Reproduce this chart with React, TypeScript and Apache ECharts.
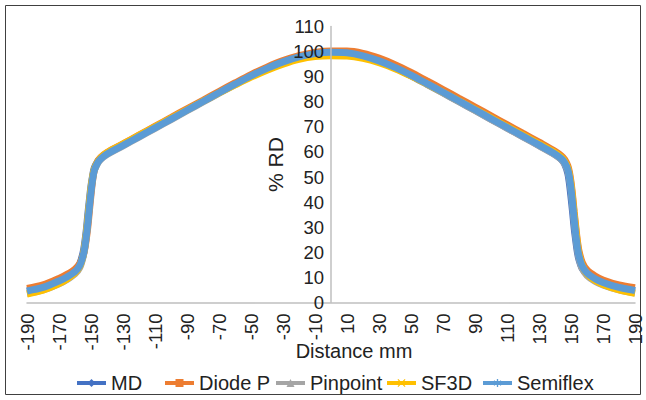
import React, { useEffect, useRef } from "react";
import * as echarts from "echarts";

// Distance (mm) sample positions shared by all detectors
const distances = [
  -190, -180, -170, -165, -160, -157, -155, -154, -153, -152, -151, -150, -149, -148, -146, -144, -140,
  -130, -120, -110, -100, -90, -80, -70, -60, -50, -40, -30, -20, -10,
  0,
  10, 20, 30, 40, 50, 60, 70, 80, 90, 100, 110, 120, 130, 140,
  144, 146, 148, 149, 150, 151, 152, 153, 154, 155, 157, 160, 165, 170, 180, 190,
];

const md = [
  4.5, 5.9, 8.5, 10.1, 12.5, 15.5, 19.8, 23.5, 28.5, 35, 41, 46.5, 50.5, 53.5, 56, 57.5, 59.4,
  62.8, 66.3, 69.8, 73.3, 76.8, 80.3, 83.7, 87.1, 90.4, 93.4, 96, 98, 99.3,
  99.7,
  99.4, 98.1, 96.1, 93.5, 90.4, 87, 83.6, 80.1, 76.6, 73.1, 69.6, 66.1, 62.6, 59,
  57, 55.2, 51.5, 47.5, 42, 36, 29.5, 24.5, 20, 17, 13.5, 11.3, 9.3, 7.9, 5.9, 4.7,
];

const diodeP = [
  5.6, 7, 9.6, 11.2, 13.3, 15.5, 18.5, 21, 25, 30, 36.5, 43, 48.5, 52.5, 56, 57.8, 59.8,
  63.2, 66.7, 70.2, 73.7, 77.2, 80.6, 84.1, 87.5, 90.8, 93.8, 96.4, 98.4, 99.7,
  100.2,
  100.2, 99.3, 97.4, 94.8, 91.7, 88.3, 84.9, 81.4, 77.9, 74.4, 70.9, 67.4, 63.9, 60.3,
  58.4, 57, 54.5, 52, 48, 42.5, 36, 30, 24.5, 20.5, 16, 13, 10.6, 9, 7, 5.9,
];

const pinpoint = [
  3.6, 5, 7.5, 9.2, 11.5, 14, 18, 21.5, 26.5, 32.5, 39, 45, 49.5, 52.5, 55.3, 57, 59,
  62.4, 65.9, 69.4, 72.9, 76.4, 79.9, 83.4, 86.8, 90.1, 93.1, 95.6, 97.6, 98.8,
  99.2,
  99, 97.9, 96, 93.4, 90.3, 86.9, 83.5, 80, 76.5, 73, 69.5, 66, 62.5, 58.9,
  57, 55.4, 52.5, 49.5, 45, 39, 32.5, 26.5, 21.5, 17.8, 13.6, 10.8, 8.5, 7, 5, 3.8,
];

const sf3d = [
  3.4, 4.9, 7.5, 9.3, 11.8, 14.5, 18.5, 22, 27, 33, 39.5, 45.5, 50, 53, 55.8, 57.6, 59.7,
  63.1, 66.6, 70, 73.4, 76.8, 80.2, 83.5, 86.7, 89.8, 92.6, 95, 96.9, 98,
  98.3,
  98.2, 97.3, 95.6, 93.2, 90.3, 87.1, 83.8, 80.4, 77, 73.6, 70.1, 66.7, 63.2, 59.7,
  57.8, 56.3, 53.7, 51, 47, 41.5, 35, 29, 23.5, 19.3, 14.8, 11.5, 8.8, 7.2, 5, 3.7,
];

const semiflex = [
  4.6, 6.0, 8.6, 10.2, 12.3, 14.8, 18.5, 21.5, 26, 31.5, 38, 44, 49, 52.5, 55.5, 57.2, 59.2,
  62.6, 66.1, 69.6, 73.1, 76.6, 80.1, 83.6, 87, 90.3, 93.3, 95.9, 97.9, 99.2,
  99.7,
  99.5, 98.3, 96.3, 93.7, 90.6, 87.2, 83.8, 80.3, 76.8, 73.3, 69.8, 66.3, 62.8, 59.2,
  57.3, 55.8, 53, 50, 45.5, 39.5, 33, 27, 22, 18.5, 14.5, 11.8, 9.5, 8.0, 6.0, 4.8,
];

const seriesNames = ["MD", "Diode P", "Pinpoint", "SF3D", "Semiflex"];
const seriesValues = [md, diodeP, pinpoint, sf3d, semiflex];
const colors = ["#4472C4", "#ED7D31", "#A5A5A5", "#FFC000", "#5B9BD5"];
const symbols = [
  "diamond",
  "rect",
  "triangle",
  "path://M1,0L5,4L9,0L10,1L6,5L10,9L9,10L5,6L1,10L0,9L4,5L0,1Z",
  "path://M4.3,0H5.7V3.3L8.5,1.5L9.2,2.7L6.4,4.5L9.2,6.3L8.5,7.5L5.7,5.7V9H4.3V5.7L1.5,7.5L0.8,6.3L3.6,4.5L0.8,2.7L1.5,1.5L4.3,3.3Z",
];

const xTitle = "Distance mm";
const yTitle = "% RD";
const FONT = "'Liberation Sans', Arial, sans-serif";

// left edge of each legend entry (layout, px)
const LEGEND_LEFTS = [70, 158, 269, 380, 476];

export default function App() {
  const ref = useRef<HTMLDivElement>(null);

  useEffect(() => {
    document.body.style.margin = "0";
    const chart = echarts.init(ref.current as HTMLDivElement, undefined, { renderer: "svg" });

    const gridLeft = 27;
    const gridRight = 11;
    const plotWidth = 646 - gridLeft - gridRight;
    // y axis sits where distance = 0 (middle of the -190..190 range)
    const yAxisOffset = -plotWidth / 2;

    const series = seriesNames.map((name, i) => ({
      name,
      type: "line",
      data: distances.map((d, j) => [d, seriesValues[i][j]]),
      symbol: symbols[i],
      showSymbol: false,
      smooth: 0.3,
      lineStyle: { color: colors[i], width: 7 },
      itemStyle: { color: colors[i] },
      emphasis: { disabled: true },
    }));

    const legends = seriesNames.map((name, i) => ({
      left: LEGEND_LEFTS[i],
      top: 368,
      itemWidth: 29,
      itemHeight: 10,
      lineStyle: { width: 4 },
      textStyle: { fontSize: 20, color: "#222", fontFamily: FONT },
      data: [name],
    }));

    chart.setOption({
      animation: false,
      textStyle: { fontFamily: FONT },
      graphic: [
        {
          type: "rect",
          shape: { x: 5.5, y: 5.5, width: 635, height: 389 },
          style: { fill: "none", stroke: "#404040", lineWidth: 1 },
          silent: true,
        },
      ],
      grid: {
        left: gridLeft,
        right: gridRight,
        top: 26.5,
        bottom: 97.5,
        containLabel: false,
        outerBoundsMode: "none",
      },
      legend: legends,
      xAxis: {
        type: "value",
        min: -190,
        max: 190,
        interval: 20,
        name: xTitle,
        nameLocation: "middle",
        nameGap: 38,
        nameMoveOverlap: false,
        nameTextStyle: { fontSize: 20, color: "#222", fontFamily: FONT, padding: [0, 0, 0, 46] },
        axisLine: { show: true, onZero: false, lineStyle: { color: "#BFBFBF", width: 1.5 } },
        axisTick: { show: false },
        splitLine: { show: false },
        axisLabel: { rotate: 90, fontSize: 18.5, color: "#222", margin: 11, fontFamily: FONT },
      },
      yAxis: {
        type: "value",
        min: 0,
        max: 110,
        interval: 10,
        offset: yAxisOffset,
        z: 5,
        name: yTitle,
        nameLocation: "middle",
        nameGap: 45,
        nameMoveOverlap: false,
        nameTextStyle: { fontSize: 21, color: "#222", fontFamily: FONT },
        axisLine: { show: true, onZero: false, lineStyle: { color: "#BFBFBF", width: 1.5 } },
        axisTick: { show: false },
        splitLine: { show: false },
        axisLabel: { fontSize: 18.5, color: "#222", margin: 7, fontFamily: FONT },
      },
      series,
    });

    return () => chart.dispose();
  }, []);

  return <div ref={ref} style={{ width: 646, height: 400 }} />;
}
